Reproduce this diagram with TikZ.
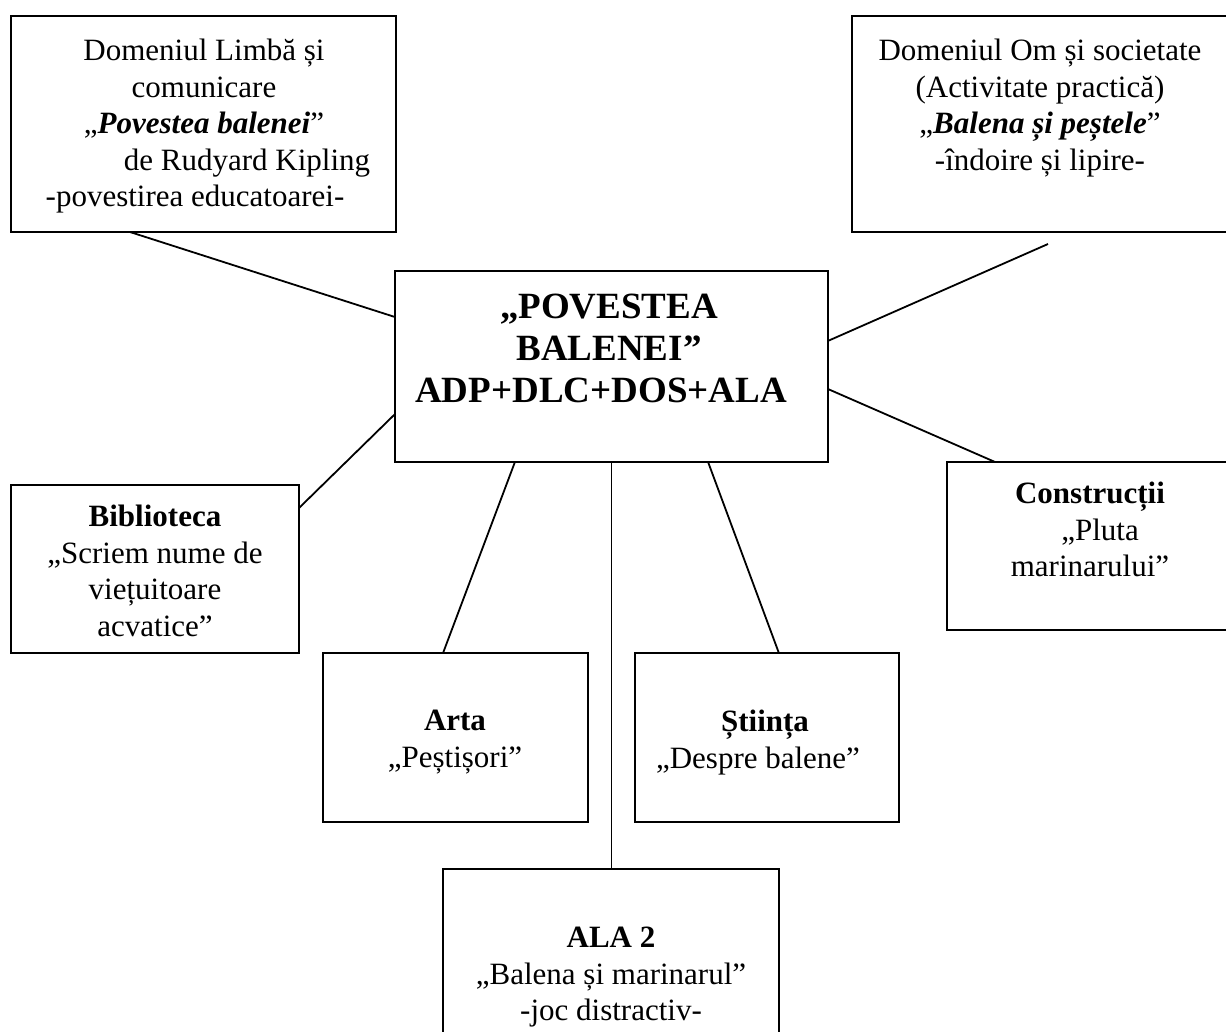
\documentclass[tikz,border=0pt]{standalone}
\usepackage{fontspec}
\setmainfont{Liberation Serif}
\usetikzlibrary{fit,calc}
\begin{document}
\begin{tikzpicture}[x=0.5pt,y=-0.5pt,
  box/.style={draw, line width=1pt, inner sep=0pt, outer sep=0pt},
  txt/.style={align=center, anchor=north, inner sep=0pt, font=\fontsize{15.5}{18.25}\selectfont},
  big/.style={align=center, anchor=north, inner sep=0pt, font=\fontsize{18.5}{21}\selectfont\bfseries},
  link/.style={line width=0.9pt}]
\useasboundingbox (0,0) rectangle (1226,1032);
\clip (0,0) rectangle (1226,1032);
\fill[white] (0,0) rectangle (1226,1032);
% boxes
\node[box, fit={(11,16)(396,232)}] (lim) {};
\node[box, fit={(852,16)(1240,232)}] (om) {};
\node[box, fit={(395,271)(828,462)}] (ctr) {};
\node[box, fit={(11,485)(299,653)}] (bib) {};
\node[box, fit={(947,462)(1240,630)}] (con) {};
\node[box, fit={(323,653)(588,822)}] (arta) {};
\node[box, fit={(635,653)(899,822)}] (sti) {};
\node[box, fit={(443,869)(779,1045)}] (ala) {};
% texts
\node[txt] (limt) at (204,39) {Domeniul Limbă și\\ comunicare\\ „\textbf{\textit{Povestea balenei}}”\\ \hspace*{43pt}de Rudyard Kipling\\ -povestirea educatoarei-\hspace*{9pt}};
\node[txt] (omt) at (1040,39) {Domeniul Om și societate\\ (Activitate practică)\\ „\textbf{\textit{Balena și peștele}}”\\ -îndoire și lipire-};
\node[big] (ctrt) at (609,294) {„POVESTEA\\ BALENEI”\\ ADP+DLC+DOS+ALA\hspace*{8pt}};
\node[txt] (bibt) at (155,505) {\textbf{Biblioteca}\\ „Scriem nume de\\ viețuitoare\\ acvatice”};
\node[txt] (cont) at (1090,482) {\textbf{Construcții}\\ \hspace*{10pt}„Pluta\\ marinarului”};
\node[txt] (artat) at (455,710) {\textbf{Arta}\\ „Peștișori”};
\node[txt] (stit) at (765,710) {\textbf{Știința}\\ „Despre balene”\hspace*{7pt}};
\node[txt] (alat) at (611,927) {\textbf{ALA 2}\\ „Balena și marinarul”\\ -joc distractiv-};
% connectors
\coordinate (omend) at (1048,244);
\draw[link] ($(lim.south west)!0.309!(lim.south east)$) -- ($(ctr.north west)!0.241!(ctr.south west)$);
\draw[link] ($(ctr.north east)!0.366!(ctr.south east)$) -- (omend);
\draw[link] ($(ctr.north east)!0.618!(ctr.south east)$) -- ($(con.north west)!0.164!(con.north east)$);
\draw[link] ($(ctr.north west)!0.749!(ctr.south west)$) -- ($(bib.north east)!0.137!(bib.south east)$);
\draw[link] ($(ctr.south west)!0.277!(ctr.south east)$) -- ($(arta.north west)!0.453!(arta.north east)$);
\draw[link] (ctr.south) -- (ctr.south |- ala.north);
\draw[link] ($(ctr.south west)!0.723!(ctr.south east)$) -- ($(sti.north west)!0.545!(sti.north east)$);
\end{tikzpicture}
\end{document}
